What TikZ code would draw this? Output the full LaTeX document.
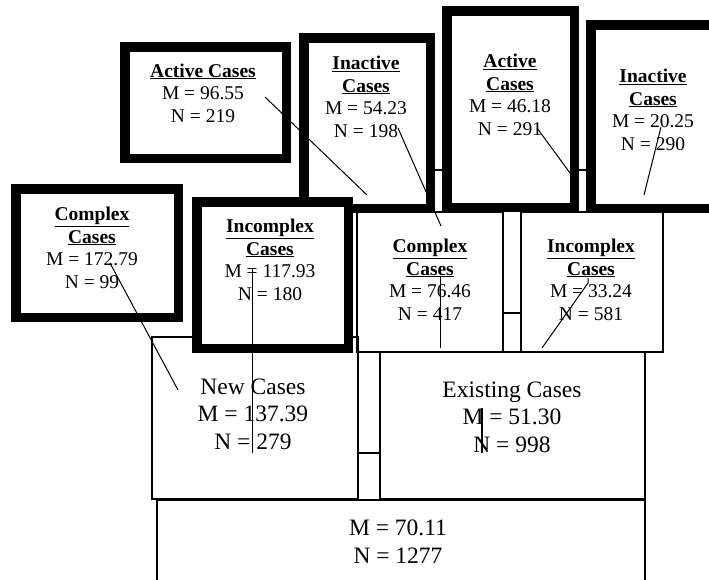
\documentclass[tikz,border=0pt]{standalone}
\usepackage{fontspec}
\setmainfont{Liberation Serif}

\begin{document}
\begin{tikzpicture}[
    x=1pt, y=-1pt,
    thinbox/.style={rectangle, draw, line width=1.2pt, inner sep=0pt},
    thickbox/.style={rectangle, draw, fill=white, line width=9.5pt, inner sep=0pt},
    celltext/.style={align=center, anchor=base, inner sep=0pt, font=\fontsize{19.5}{22.5}\selectfont},
    celltextbig/.style={align=center, anchor=base, inner sep=0pt, font=\fontsize{23.5}{27.5}\selectfont},
    link/.style={line width=1.2pt},
    pointer/.style={line width=1pt}
]
\fill[white] (0,0) rectangle (709,579);
\useasboundingbox (0,0) rectangle (709,579);
\clip (0,0) rectangle (709,579);

\node[thinbox, minimum width=488pt, minimum height=120pt] (root) at (401,560) {};
\node[thinbox, minimum width=206pt, minimum height=162pt] (newc) at (255,418) {};
\node[thinbox, minimum width=265pt, minimum height=147pt] (exist) at (512.5,425.5) {};
\node[thinbox, minimum width=146pt, minimum height=140pt] (cplx2) at (430,282) {};
\node[thinbox, minimum width=142pt, minimum height=140pt] (incplx2) at (592,282) {};

\node[thickbox, minimum width=161.5pt, minimum height=111.5pt] (act1) at (205.5,102.5) {};
\node[thickbox, minimum width=126.5pt, minimum height=170.5pt] (inact1) at (367,123) {};
\node[thickbox, minimum width=127.5pt, minimum height=196.5pt] (act2) at (510.5,109) {};
\node[thickbox, minimum width=134.5pt, minimum height=183.5pt] (inact2) at (658,116.5) {};
\node[thickbox, minimum width=162.5pt, minimum height=128.5pt] (cplx1) at (97,253) {};
\node[thickbox, minimum width=151.5pt, minimum height=146.5pt] (incplx1) at (272.5,275) {};

\coordinate (j1) at (0,170);
\coordinate (j2) at (0,313);
\coordinate (j3) at (0,453);
\draw[link] (inact1.east |- j1) -- (act2.west |- j1);
\draw[link] (act2.east |- j1) -- (inact2.west |- j1);
\draw[link] (cplx2.east |- j2) -- (incplx2.west |- j2);
\draw[link] (newc.east |- j3) -- (exist.west |- j3);

\coordinate (p1a) at (265,97);   \coordinate (p1b) at (367,195);
\coordinate (p2a) at (398,128);  \coordinate (p2b) at (441,226);
\coordinate (p3a) at (537,128);  \coordinate (p3b) at (570,173);
\coordinate (p4a) at (661,127);  \coordinate (p4b) at (644,195);
\coordinate (p5a) at (110,263);  \coordinate (p5b) at (178,390);
\coordinate (p6a) at (252,268);  \coordinate (p6b) at (252,453);
\coordinate (p7a) at (440,277);  \coordinate (p7b) at (440,348);
\coordinate (p8a) at (588,278);  \coordinate (p8b) at (542,348);
\coordinate (p9a) at (482,408);  \coordinate (p9b) at (482,453);
\draw[pointer] (p1a) -- (p1b);
\draw[pointer] (p2a) -- (p2b);
\draw[pointer] (p3a) -- (p3b);
\draw[pointer] (p4a) -- (p4b);
\draw[pointer] (p5a) -- (p5b);
\draw[pointer] (p6a) -- (p6b);
\draw[pointer] (p7a) -- (p7b);
\draw[pointer] (p8a) -- ++(0,5) -- (p8b);
\draw[pointer, line width=1.6pt] (p9a) -- (p9b);

\node[celltext] (act1t) at (203,122) {\underline{\textbf{Active Cases}}\\M = 96.55\\N = 219};
\node[celltext] (inact1t) at (366,137) {\underline{\textbf{Inactive}}\\\underline{\textbf{Cases}}\\M = 54.23\\N = 198};
\node[celltext] (act2t) at (510,135) {\underline{\textbf{Active}}\\\underline{\textbf{Cases}}\\M = 46.18\\N = 291};
\node[celltext] (inact2t) at (653,150) {\underline{\textbf{Inactive}}\\\underline{\textbf{Cases}}\\M = 20.25\\N = 290};
\node[celltext] (cplx1t) at (92,288) {\underline{\textbf{Complex}}\\\underline{\textbf{Cases}}\\M = 172.79\\N = 99};
\node[celltext] (incplx1t) at (270,300) {\underline{\textbf{Incomplex}}\\\underline{\textbf{Cases}}\\M = 117.93\\N = 180};
\node[celltext] (cplx2t) at (430,320) {\underline{\textbf{Complex}}\\\underline{\textbf{Cases}}\\M = 76.46\\N = 417};
\node[celltext] (incplx2t) at (591,320) {\underline{\textbf{Incomplex}}\\\underline{\textbf{Cases}}\\M = 33.24\\N = 581};
\node[celltextbig] (newct) at (253,449) {New Cases\\M = 137.39\\N = 279};
\node[celltextbig] (existt) at (512,452) {Existing Cases\\M = 51.30\\N = 998};
\node[celltextbig] (roott) at (398,563) {M = 70.11\\N = 1277};
\end{tikzpicture}
\end{document}
